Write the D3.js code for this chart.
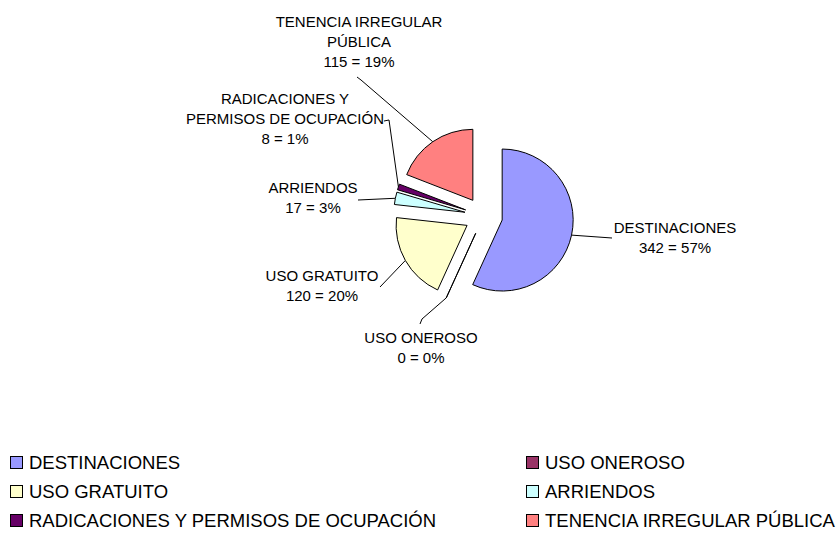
<!DOCTYPE html>
<html>
<head>
<meta charset="utf-8">
<script src="https://cdn.jsdelivr.net/npm/d3@7"></script>
<style>
  body { margin: 0; background: #fff; }
  text { font-family: "Liberation Sans", Arial, sans-serif; fill: #000; }
</style>
</head>
<body>
<svg id="chart" width="839" height="535"></svg>
<script>
(function () {
  'use strict';

  // data
  var categories = ['DESTINACIONES', 'USO ONEROSO', 'USO GRATUITO', 'ARRIENDOS',
    'RADICACIONES Y PERMISOS DE OCUPACIÓN', 'TENENCIA IRREGULAR PÚBLICA'];
  var values = [342, 0, 120, 17, 8, 115];
  var labelLines = [['DESTINACIONES'], ['USO ONEROSO'], ['USO GRATUITO'], ['ARRIENDOS'],
    ['RADICACIONES Y', 'PERMISOS DE OCUPACIÓN'], ['TENENCIA IRREGULAR', 'PÚBLICA']];
  var colors = ['#9999ff', '#993366', '#ffffcc', '#ccffff', '#660066', '#ff8080'];

  // layout of the data labels (hand placed like the original)
  var labelX = [675, 421, 322, 313, 285, 359];
  var labelY = [233, 343, 281, 193, 104, 27];
  var leaderStart = [[612, 238], [420, 324], [380, 287], [358, 200], [384, 121], [357, 77]];
  var leaderHook = [null, [422, 319], null, null, [389, 120], [361, 80]];

  var cx = 483.6, cy = 216, radius = 71, explode = 19, lineGap = 20;

  var svg = d3.select('#chart');
  var total = d3.sum(values);
  var pct = d3.format('.0%');

  var pie = d3.pie().sort(null).value(function (d) { return d; });
  var arcs = pie(values);
  var arc = d3.arc().innerRadius(0).outerRadius(radius);

  function offset(d) {
    var a = (d.startAngle + d.endAngle) / 2;
    return [Math.sin(a) * explode, -Math.cos(a) * explode];
  }
  function outerMid(d) {
    var a = (d.startAngle + d.endAngle) / 2, o = offset(d);
    return [cx + o[0] + Math.sin(a) * radius, cy + o[1] - Math.cos(a) * radius];
  }

  var chart = svg.append('g');

  // leader lines
  chart.selectAll('.leader')
    .data(arcs)
    .enter()
    .append('polyline')
    .attr('class', 'leader')
    .attr('fill', 'none')
    .attr('stroke', '#000')
    .attr('stroke-width', 1)
    .attr('points', function (d, i) {
      var pts = [leaderStart[i]];
      if (leaderHook[i]) { pts.push(leaderHook[i]); }
      pts.push(outerMid(d));
      return pts.map(function (p) { return p.join(','); }).join(' ');
    });

  // slices
  chart.selectAll('.slice')
    .data(arcs)
    .enter()
    .append('path')
    .attr('class', 'slice')
    .attr('transform', function (d) {
      var o = offset(d);
      return 'translate(' + [cx + o[0], cy + o[1]] + ')';
    })
    .attr('d', arc)
    .attr('fill', function (d, i) { return colors[i]; })
    .attr('stroke', '#000')
    .attr('stroke-width', 1)
    .attr('stroke-linejoin', 'round');

  // data labels
  var labels = chart.selectAll('.label')
    .data(arcs)
    .enter()
    .append('text')
    .attr('class', 'label')
    .attr('text-anchor', 'middle')
    .style('font-size', '15px');

  labels.each(function (d, i) {
    var t = d3.select(this);
    var lines = labelLines[i].concat([values[i] + ' = ' + pct(values[i] / total)]);
    lines.forEach(function (s, j) {
      t.append('tspan')
        .attr('x', labelX[i])
        .attr('y', labelY[i] + j * lineGap)
        .text(s);
    });
  });

  // legend
  var legendCols = [10, 526], legendRows = [462, 491, 520], box = 12;
  var legend = svg.append('g').attr('class', 'legend');
  var item = legend.selectAll('.item')
    .data(categories)
    .enter()
    .append('g')
    .attr('class', 'item')
    .attr('transform', function (d, i) {
      return 'translate(' + [legendCols[i % 2], legendRows[Math.floor(i / 2)]] + ')';
    });

  item.append('rect')
    .attr('x', 0.5)
    .attr('y', -box / 2 + 0.5)
    .attr('width', box)
    .attr('height', box)
    .attr('fill', function (d, i) { return colors[i]; })
    .attr('stroke', '#000')
    .attr('stroke-width', 1);

  item.append('text')
    .attr('x', 19)
    .attr('y', 6.5)
    .style('font-size', '18.5px')
    .text(function (d) { return d; });
}());
</script>
</body>
</html>
